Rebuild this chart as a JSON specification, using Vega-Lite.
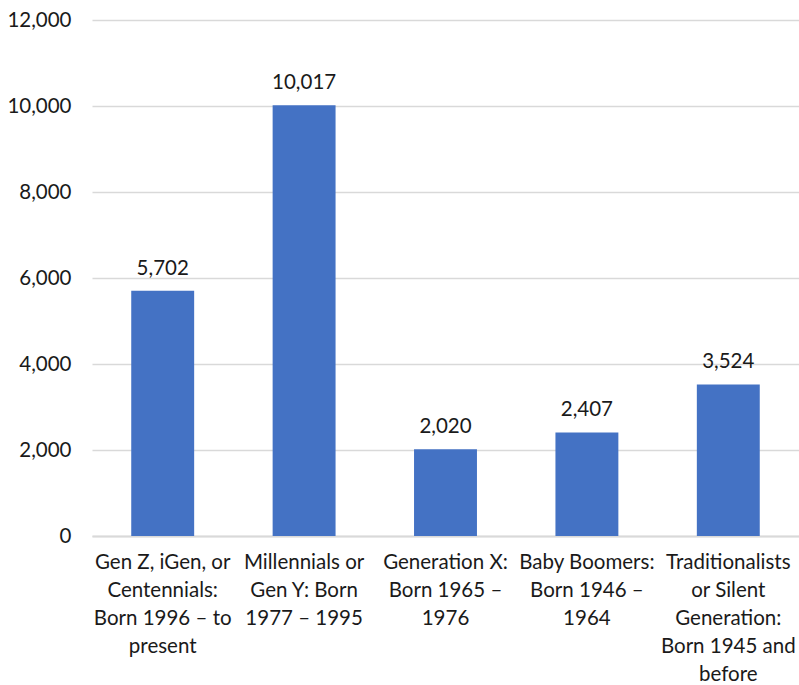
{
  "$schema": "https://vega.github.io/schema/vega-lite/v6.json",
  "width": 707,
  "height": 516,
  "autosize": {"type": "none"},
  "padding": {"left": 92, "top": 20, "right": 0, "bottom": 149},
  "background": "white",
  "config": {"view": {"stroke": null}, "font": "Lato"},
  "data": {
    "values": [
      {"generation": "Gen Z, iGen, or|Centennials:|Born 1996 – to|present", "order": 1, "count": 5702},
      {"generation": "Millennials or|Gen Y: Born|1977 – 1995", "order": 2, "count": 10017},
      {"generation": "Generation X:|Born 1965 –|1976", "order": 3, "count": 2020},
      {"generation": "Baby Boomers:|Born 1946 –|1964", "order": 4, "count": 2407},
      {"generation": "Traditionalists|or Silent|Generation:|Born 1945 and|before", "order": 5, "count": 3524}
    ]
  },
  "encoding": {
    "x": {
      "field": "generation",
      "type": "nominal",
      "sort": {"field": "order"},
      "scale": {"paddingInner": 0.555, "paddingOuter": 0.2775},
      "axis": {
        "title": null,
        "labelAngle": 0,
        "labelExpr": "split(datum.label, '|')",
        "labelFontSize": 20.5,
        "labelColor": "#1a1a1a",
        "labelLineHeight": 28.2,
        "labelPadding": 16,
        "labelBaseline": "top",
        "ticks": false,
        "domainColor": "#d9d9d9",
        "domainWidth": 2,
        "labelLimit": 200
      }
    },
    "y": {
      "field": "count",
      "type": "quantitative",
      "scale": {"domain": [0, 12000]},
      "axis": {
        "title": null,
        "values": [0, 2000, 4000, 6000, 8000, 10000, 12000],
        "format": ",.0f",
        "labelFontSize": 20.5,
        "labelColor": "#1a1a1a",
        "labelPadding": 21,
        "ticks": false,
        "domain": false,
        "gridColor": "#d9d9d9",
        "gridWidth": 1.5
      }
    }
  },
  "layer": [
    {"mark": {"type": "bar", "color": "#4472C4"}},
    {
      "mark": {"type": "text", "baseline": "bottom", "dy": -12, "fontSize": 20.5, "color": "#1a1a1a"},
      "encoding": {"text": {"field": "count", "type": "quantitative", "format": ",.0f"}}
    }
  ]
}
